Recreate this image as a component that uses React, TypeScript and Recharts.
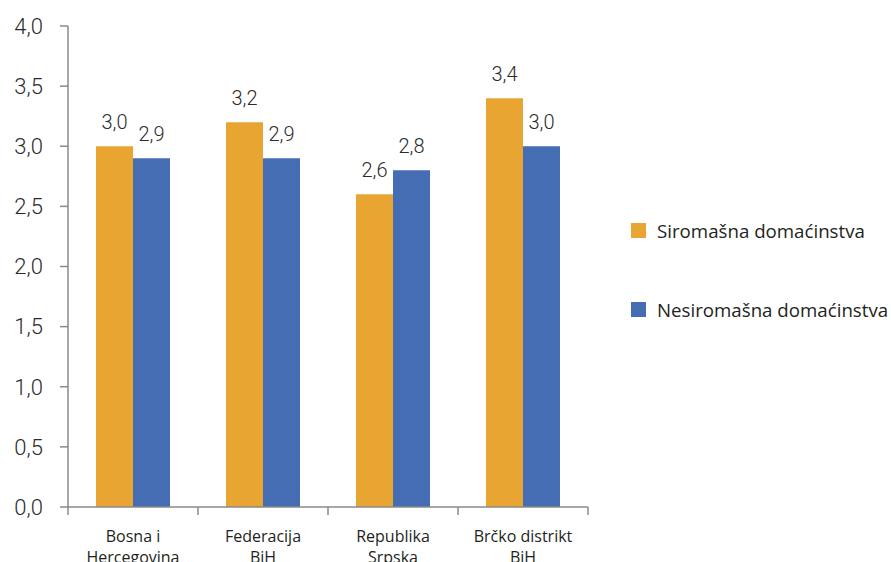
import React from 'react';
import { BarChart, Bar, XAxis, YAxis, LabelList, Legend } from 'recharts';

const categories = ['Bosna i\nHercegovina', 'Federacija\nBiH', 'Republika\nSrpska', 'Brčko distrikt\nBiH'];
const poorValues = [3.0, 3.2, 2.6, 3.4];
const nonPoorValues = [2.9, 2.9, 2.8, 3.0];
const yTicks = [0, 0.5, 1, 1.5, 2, 2.5, 3, 3.5, 4];

const POOR = '#E8A532';
const NONPOOR = '#446DB3';
const AXIS = '#8a8a8a';

const data = categories.map((name, i) => ({
  name,
  poor: poorValues[i],
  nonPoor: nonPoorValues[i],
}));

const fmt = (v: number) => v.toFixed(1).replace('.', ',');

// category label plus tick marks at the band edges (reference puts ticks between groups)
const CategoryTick = (props: any) => {
  const { x, y, payload, width, visibleTicksCount, index } = props;
  const lines = String(payload.value).split('\n');
  const half = width / visibleTicksCount / 2;
  return (
    <g>
      <line x1={x - half} x2={x - half} y1={y} y2={y + 8} stroke={AXIS} strokeWidth={1.5} />
      {index === visibleTicksCount - 1 && (
        <line x1={x + half} x2={x + half} y1={y} y2={y + 8} stroke={AXIS} strokeWidth={1.5} />
      )}
      <text x={x} y={y} textAnchor="middle" fill="#231f20" fontSize={16} fontFamily="'Open Sans', sans-serif">
        {lines.map((l, i) => (
          <tspan key={i} x={x} y={y + 35 + i * 21}>{l}</tspan>
        ))}
      </text>
    </g>
  );
};

const LegendContent = () => (
  <div style={{ fontFamily: "'Open Sans', sans-serif", fontSize: 18.7, color: '#231f20' }}>
    {[
      { label: 'Siromašna domaćinstva', color: POOR },
      { label: 'Nesiromašna domaćinstva', color: NONPOOR },
    ].map((it, i) => (
      <div key={i} style={{ display: 'flex', alignItems: 'center', height: 30, marginBottom: i === 0 ? 49 : 0 }}>
        <span style={{ width: 15, height: 15, background: it.color, display: 'inline-block', marginRight: 11 }} />
        <span style={{ whiteSpace: 'nowrap' }}>{it.label}</span>
      </div>
    ))}
  </div>
);

const labelStyle = { fill: '#2b2b2b', fontSize: 20, fontFamily: 'Roboto, sans-serif', fontWeight: 300 };

export default function App() {
  return (
    <div style={{ position: 'absolute', left: 0, top: 0, width: 891, height: 562, background: '#fff' }}>
      <BarChart
        width={891}
        height={562}
        data={data}
        margin={{ top: 26, right: 303, left: 0, bottom: 0 }}
        barGap={0}
        barCategoryGap={28}
      >
        <XAxis
          dataKey="name"
          height={55}
          axisLine={{ stroke: AXIS, strokeWidth: 1.5 }}
          tickLine={false}
          tickSize={0}
          tickMargin={0}
          interval={0}
          tick={<CategoryTick />}
        />
        <YAxis
          width={68}
          domain={[0, 4]}
          ticks={yTicks}
          tickFormatter={fmt}
          tickSize={8}
          tickMargin={17}
          stroke={AXIS}
          axisLine={{ stroke: AXIS, strokeWidth: 1.5 }}
          tickLine={{ stroke: AXIS, strokeWidth: 1.5 }}
          tick={{ fill: '#2b2b2b', fontSize: 22, fontFamily: 'Roboto, sans-serif', fontWeight: 300 }}
        />
        <Legend
          layout="vertical"
          align="center"
          verticalAlign="middle"
          content={<LegendContent />}
          wrapperStyle={{ left: 631, top: 215, width: 260 }}
        />
        <Bar dataKey="poor" name="Siromašna domaćinstva" fill={POOR} isAnimationActive={false}>
          <LabelList dataKey="poor" position="top" offset={17} formatter={(v: any) => fmt(Number(v))} style={labelStyle} />
        </Bar>
        <Bar dataKey="nonPoor" name="Nesiromašna domaćinstva" fill={NONPOOR} isAnimationActive={false}>
          <LabelList dataKey="nonPoor" position="top" offset={17} formatter={(v: any) => fmt(Number(v))} style={labelStyle} />
        </Bar>
      </BarChart>
    </div>
  );
}
